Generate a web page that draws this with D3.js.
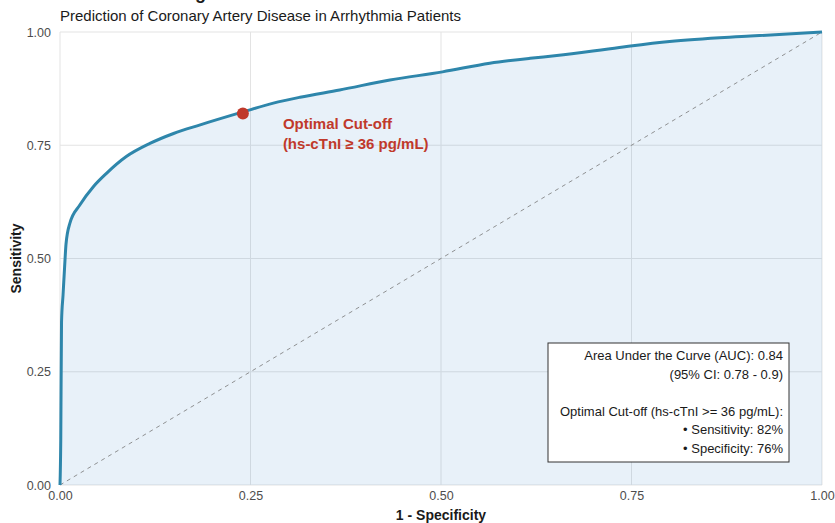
<!DOCTYPE html>
<html>
<head>
<meta charset="utf-8">
<script src="https://cdn.jsdelivr.net/npm/d3@7"></script>
<style>
  html, body { margin: 0; padding: 0; background: #ffffff; }
  svg { display: block; font-family: "Liberation Sans", Arial, sans-serif; }
</style>
</head>
<body>
<svg id="chart" width="835" height="523"></svg>
<script>
// ROC curve points: false positive rate (1 - specificity) and sensitivity
const fpr = [0, 0.001, 0.002, 0.004, 0.006, 0.0079, 0.013, 0.026, 0.044, 0.061, 0.087, 0.118, 0.149, 0.184, 0.239, 0.280, 0.315, 0.367, 0.433, 0.502, 0.564, 0.617, 0.652, 0.734, 0.800, 0.906, 1.0];
const tpr = [0, 0.10, 0.36, 0.42, 0.48, 0.532, 0.578, 0.618, 0.659, 0.688, 0.725, 0.754, 0.776, 0.795, 0.823, 0.843, 0.856, 0.872, 0.894, 0.912, 0.931, 0.942, 0.948, 0.966, 0.979, 0.991, 1.0];

// Optimal threshold on the curve
const cutoffFpr = 0.24;
const cutoffTpr = 0.82;
const cutoffLabel = ["Optimal Cut-off", "(hs-cTnI \u2265 36 pg/mL)"];

// Tick values and labels
const tickValues = [0, 0.25, 0.5, 0.75, 1];
const tickLabels = ["0.00", "0.25", "0.50", "0.75", "1.00"];

// Summary statistics box
const statsLines = [
  "Area Under the Curve (AUC): 0.84",
  "(95% CI: 0.78 - 0.9)",
  "",
  "Optimal Cut-off (hs-cTnI >= 36 pg/mL):",
  "\u2022 Sensitivity: 82%",
  "\u2022 Specificity: 76%"
];

const titleText = "ROC Curve: Diagnostic Performance of hs-cTnI";
const subtitleText = "Prediction of Coronary Artery Disease in Arrhythmia Patients";

const svg = d3.select("#chart");
const margin = { left: 60, right: 13, top: 32, bottom: 38 };
const W = 835, H = 523;

const x = d3.scaleLinear().domain([0, 1]).range([margin.left, W - margin.right]);
const y = d3.scaleLinear().domain([0, 1]).range([H - margin.bottom, margin.top]);

const lineColor = "#2E86AB";
const red = "#C0392B";

// Grid lines
const grid = svg.append("g");
grid.selectAll(".gx").data(tickValues).join("line")
  .attr("x1", d => x(d)).attr("x2", d => x(d))
  .attr("y1", y(0)).attr("y2", y(1))
  .attr("stroke", "#e3e3e3").attr("stroke-width", 1);
grid.selectAll(".gy").data(tickValues).join("line")
  .attr("x1", x(0)).attr("x2", x(1))
  .attr("y1", d => y(d)).attr("y2", d => y(d))
  .attr("stroke", "#e3e3e3").attr("stroke-width", 1);

const pts = fpr.map((f, i) => [f, tpr[i]]);

// Shaded area under the curve
const area = d3.area().x(d => x(d[0])).y0(y(0)).y1(d => y(d[1])).curve(d3.curveMonotoneX);
svg.append("path").datum(pts)
  .attr("d", area)
  .attr("fill", "#3F8ACD").attr("fill-opacity", 0.12);

// Chance diagonal
svg.append("line")
  .attr("x1", x(0)).attr("y1", y(0)).attr("x2", x(1)).attr("y2", y(1))
  .attr("stroke", "#777").attr("stroke-width", 0.8)
  .attr("stroke-dasharray", "4,4");

// ROC curve
const line = d3.line().x(d => x(d[0])).y(d => y(d[1])).curve(d3.curveMonotoneX);
svg.append("path").datum(pts)
  .attr("d", line)
  .attr("fill", "none").attr("stroke", lineColor)
  .attr("stroke-width", 3).attr("stroke-linejoin", "round");

// Optimal cut-off point and label
svg.append("circle")
  .attr("cx", x(cutoffFpr)).attr("cy", y(cutoffTpr)).attr("r", 6)
  .attr("fill", red);
svg.append("text")
  .attr("x", x(cutoffFpr) + 40).attr("y", y(cutoffTpr) + 15)
  .attr("fill", red).attr("font-size", 15).attr("font-weight", "bold")
  .selectAll("tspan").data(cutoffLabel).join("tspan")
  .attr("x", x(cutoffFpr) + 40).attr("dy", (d, i) => i === 0 ? 0 : 20)
  .text(d => d);

// Axes
const xAxis = d3.axisBottom(x).tickValues(tickValues).tickFormat((d, i) => tickLabels[i]).tickSize(0).tickPadding(6);
const yAxis = d3.axisLeft(y).tickValues(tickValues).tickFormat((d, i) => tickLabels[i]).tickSize(0).tickPadding(9);

const gx = svg.append("g").attr("transform", `translate(0,${y(0)})`).call(xAxis);
const gy = svg.append("g").attr("transform", `translate(${x(0)},0)`).call(yAxis);
[gx, gy].forEach(g => {
  g.select(".domain").remove();
  g.selectAll("text").attr("fill", "#4d4d4d").attr("font-size", 12.5)
    .attr("font-family", "Liberation Sans, Arial, sans-serif");
});

// Axis titles
svg.append("text")
  .attr("x", (x(0) + x(1)) / 2).attr("y", 520)
  .attr("text-anchor", "middle").attr("font-size", 14).attr("font-weight", "bold")
  .attr("fill", "#1a1a1a").text("1 - Specificity");
svg.append("text")
  .attr("transform", `translate(21,${(y(0) + y(1)) / 2}) rotate(-90)`)
  .attr("text-anchor", "middle").attr("font-size", 14).attr("font-weight", "bold")
  .attr("fill", "#1a1a1a").text("Sensitivity");

// Title (runs above the top edge) and subtitle
svg.append("text")
  .attr("x", 60).attr("y", -1)
  .attr("font-size", 18).attr("font-weight", "bold").attr("fill", "#1a1a1a")
  .text(titleText);
svg.append("text")
  .attr("x", 60).attr("y", 21)
  .attr("font-size", 15).attr("fill", "#1a1a1a")
  .text(subtitleText);

// Statistics box
const box = svg.append("g");
const boxRight = 789, boxTop = 343, boxLeft = 548, boxBottom = 462;
box.append("rect")
  .attr("x", boxLeft).attr("y", boxTop)
  .attr("width", boxRight - boxLeft).attr("height", boxBottom - boxTop)
  .attr("fill", "#ffffff").attr("stroke", "#333").attr("stroke-width", 1);
box.selectAll("text").data(statsLines).join("text")
  .attr("x", boxRight - 6)
  .attr("y", (d, i) => boxTop + 17 + i * 18.5)
  .attr("text-anchor", "end").attr("font-size", 13).attr("fill", "#1a1a1a")
  .text(d => d);
</script>
</body>
</html>
